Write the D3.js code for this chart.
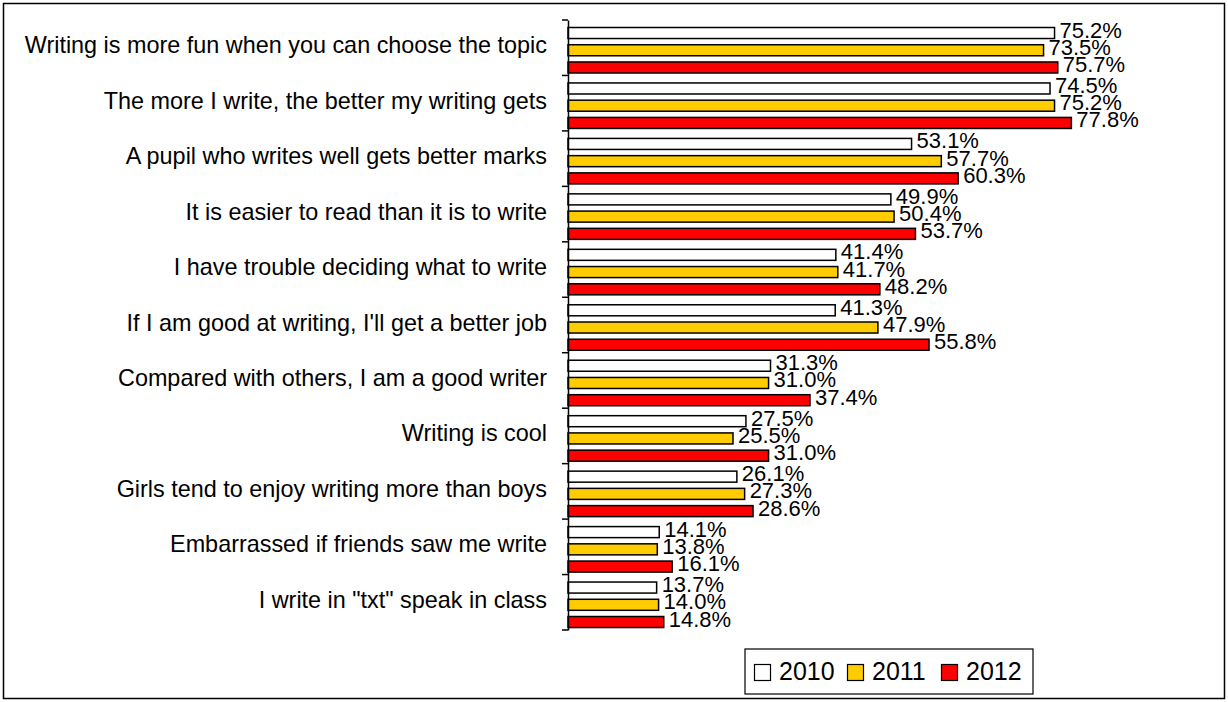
<!DOCTYPE html>
<html><head><meta charset="utf-8">
<script src="https://cdn.jsdelivr.net/npm/d3@7"></script>
<style>body{margin:0;background:#fff}svg{display:block}</style>
</head><body>
<script>
const categories = [
  "Writing is more fun when you can choose the topic",
  "The more I write, the better my writing gets",
  "A pupil who writes well gets better marks",
  "It is easier to read than it is to write",
  "I have trouble deciding what to write",
  "If I am good at writing, I'll get a better job",
  "Compared with others, I am a good writer",
  "Writing is cool",
  "Girls tend to enjoy writing more than boys",
  "Embarrassed if friends saw me write",
  "I write in \"txt\" speak in class"
];
const seriesNames = ["2010", "2011", "2012"];
const values2010 = [75.2, 74.5, 53.1, 49.9, 41.4, 41.3, 31.3, 27.5, 26.1, 14.1, 13.7];
const values2011 = [73.5, 75.2, 57.7, 50.4, 41.7, 47.9, 31.0, 25.5, 27.3, 13.8, 14.0];
const values2012 = [75.7, 77.8, 60.3, 53.7, 48.2, 55.8, 37.4, 31.0, 28.6, 16.1, 14.8];
const seriesColors = ["#ffffff", "#ffcc00", "#ff0000"];

const W = 1228, H = 702;
const svg = d3.select("body").append("svg").attr("width", W).attr("height", H);
const font = "'Liberation Sans', Arial, sans-serif";

svg.append("rect").attr("x", 3.5).attr("y", 3.5).attr("width", W - 7).attr("height", H - 7)
  .attr("fill", "#fff").attr("stroke", "#000").attr("stroke-width", 1.5);

const x = d3.scaleLinear().domain([0, 100]).range([568, 1215]);
const y = d3.scaleBand().domain(categories).range([20, 630]).paddingInner(0).paddingOuter(0);
const inner = d3.scaleBand().domain(seriesNames).range([7.5, 53]).paddingInner(0.36).paddingOuter(0);

const allSeries = [values2010, values2011, values2012];
const rows = [];
categories.forEach((c, i) => {
  seriesNames.forEach((s, j) => rows.push({c, s, j, v: allSeries[j][i]}));
});

const g = svg.append("g");
g.selectAll("rect.bar").data(rows).join("rect").attr("class", "bar")
  .attr("x", x(0))
  .attr("y", d => y(d.c) + inner(d.s))
  .attr("width", d => x(d.v) - x(0))
  .attr("height", inner.bandwidth())
  .attr("fill", d => seriesColors[d.j])
  .attr("stroke", "#000").attr("stroke-width", 1.5);

g.selectAll("text.val").data(rows).join("text").attr("class", "val")
  .attr("x", d => x(d.v) + 5)
  .attr("y", d => y(d.c) + inner(d.s) + inner.bandwidth() / 2 + 4.5)
  .attr("font-family", font).attr("font-size", 22).attr("fill", "#000")
  .text(d => d.v.toFixed(1) + "%");

// axis
const axis = d3.axisLeft(y).tickSize(0).tickPadding(21);
const ag = svg.append("g").attr("transform", `translate(${x(0)},0)`).call(axis);
ag.select(".domain").attr("stroke", "#000").attr("stroke-width", 1.5);
ag.selectAll(".tick text").attr("font-family", font).attr("font-size", 23.4).attr("fill", "#000")
  .attr("dy", null).attr("y", 5.5).attr("dominant-baseline", "auto");
// boundary ticks
const bounds = d3.range(categories.length + 1).map(i => 20 + i * y.step());
svg.append("g").selectAll("line").data(bounds).join("line")
  .attr("x1", x(0) - 6).attr("x2", x(0)).attr("y1", d => d).attr("y2", d => d)
  .attr("stroke", "#000").attr("stroke-width", 1.5);

// legend
const lg = svg.append("g");
lg.append("rect").attr("x", 745).attr("y", 649).attr("width", 288).attr("height", 45)
  .attr("fill", "#fff").attr("stroke", "#000").attr("stroke-width", 1.2);
const lx = [754, 847, 941];
seriesNames.forEach((s, j) => {
  lg.append("rect").attr("x", lx[j] + 0.5).attr("y", 664.5).attr("width", 16).attr("height", 16)
    .attr("fill", seriesColors[j]).attr("stroke", "#000").attr("stroke-width", 1.2);
  lg.append("text").attr("x", lx[j] + 25).attr("y", 680)
    .attr("font-family", font).attr("font-size", 25).text(s);
});
</script>
</body></html>
